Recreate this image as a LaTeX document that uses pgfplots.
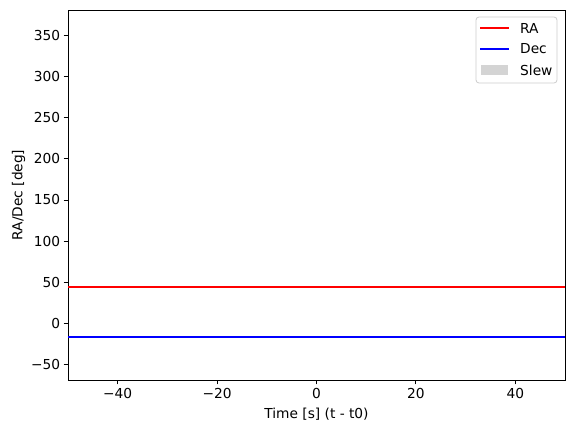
\documentclass[border=0pt]{standalone}
\usepackage{pgfplots}
\pgfplotsset{compat=1.18}
\usepackage{fontspec}
\setmainfont{DejaVu Sans}

\begin{document}
\begin{tikzpicture}
\path[use as bounding box] (-68bp,-52bp) rectangle (506bp,380bp);
\begin{axis}[
  scale only axis,
  width=497bp, height=370bp,
  xmin=-50, xmax=50,
  ymin=-69, ymax=381,
  axis line style={line width=0.8bp},
  tick align=outside,
  tick style={black, line width=0.8bp},
  major tick length=4.4bp,
  xtick pos=bottom, ytick pos=left,
  xtick={-40,-20,0,20,40},
  xticklabels={−40,−20,0,20,40},
  ytick={-50,0,50,100,150,200,250,300,350},
  yticklabels={−50,0,50,100,150,200,250,300,350},
  ticklabel style={font=\fontsize{13.8}{15}\selectfont},
  label style={font=\fontsize{13.8}{15}\selectfont},
  xlabel={Time [s] (t - t0)},
  ylabel={RA/Dec [deg]},
  xlabel style={yshift=-3bp},
  ylabel style={yshift=-1bp},
]
\addplot[draw=red, line width=1.5bp] coordinates {(-50,44.2) (50,44.2)};
\addplot[draw=blue, line width=1.5bp] coordinates {(-50,-16.6) (50,-16.6)};
\end{axis}
% legend (upper right), drawn by hand
\begin{scope}[font=\fontsize{13.8}{15}\selectfont]
  \draw[black!20, line width=0.8bp, fill=white, rounded corners=3bp]
    (408bp,297bp) rectangle (489bp,363bp);
  \draw[red, line width=1.5bp] (412bp,352bp) -- (441bp,352bp);
  \node[anchor=west, inner sep=0pt, text=black] at (452bp,352bp) {RA};
  \draw[blue, line width=1.5bp] (412bp,331bp) -- (441bp,331bp);
  \node[anchor=west, inner sep=0pt, text=black] at (452bp,331bp) {Dec};
  \fill[black!17] (413bp,305bp) rectangle (440bp,315bp);
  \node[anchor=west, inner sep=0pt, text=black] at (452bp,310bp) {Slew};
\end{scope}
\end{tikzpicture}
\end{document}
